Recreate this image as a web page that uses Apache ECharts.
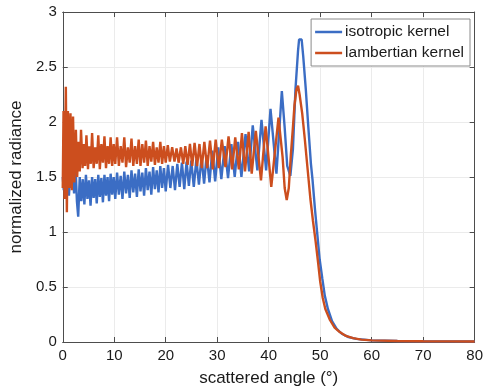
<!DOCTYPE html>
<html>
<head>
<meta charset="utf-8">
<script src="https://cdn.jsdelivr.net/npm/echarts@6/dist/echarts.min.js"></script>
<style>
html,body{margin:0;padding:0;background:#fff;}
#chart{width:486px;height:392px;}
</style>
</head>
<body>
<div id="chart"></div>
<script>
// ---- data ----
const xTicks = [0, 10, 20, 30, 40, 50, 60, 70, 80];
const yTicks = [0, 0.5, 1, 1.5, 2, 2.5, 3];

const isoName = 'isotropic kernel';
const lamName = 'lambertian kernel';

const isoAngle = [
0.0,0.2,0.45,0.7,0.95,1.2,1.45,1.7,1.95,2.2,2.45,2.75,3.0,3.3,3.6,3.9,4.2,4.5,4.8,5.1,5.4,5.7,6.0,6.3,6.6,6.9,7.2,7.5,7.8,8.1,8.4,8.7,9.0,9.3,9.6,9.9,
10.2,10.55,10.9,11.25,11.6,11.95,12.3,12.65,13.0,13.35,13.7,14.05,14.4,14.75,15.1,15.45,15.8,16.15,16.5,16.85,17.2,17.55,17.9,18.25,18.6,18.95,19.3,19.65,
20.0,20.45,20.9,21.35,21.8,22.25,22.7,23.15,23.6,24.05,24.5,24.95,25.45,25.95,26.45,26.95,27.45,27.95,28.5,29.05,29.6,30.2,30.8,31.45,32.1,32.75,33.4,34.05,34.7,
35.5,36.2,36.9,37.8,38.6,39.5,40.35,41.5,42.55,43.1,43.6,44.2,44.7,45.2,45.7,45.9,46.4,46.7,47.2,47.7,48.2,48.5,49.0,49.4,49.9,50.4,50.9,51.5,52.3,53.2,54.2,55.5,57.0,60.0,65.0,70.0,75.0,80.0
];
const isoValue = [
1.50,1.38,1.52,1.36,1.50,1.33,1.52,1.40,1.55,1.35,1.63,1.28,1.14,1.50,1.28,1.48,1.25,1.52,1.30,1.47,1.24,1.50,1.31,1.48,1.26,1.52,1.32,1.49,1.27,1.52,1.33,1.50,1.28,1.53,1.34,1.50,
1.30,1.54,1.34,1.51,1.30,1.55,1.35,1.52,1.31,1.56,1.36,1.53,1.32,1.57,1.37,1.54,1.33,1.58,1.38,1.55,1.34,1.59,1.39,1.56,1.36,1.60,1.40,1.58,
1.37,1.61,1.40,1.60,1.38,1.62,1.41,1.63,1.39,1.64,1.42,1.65,1.41,1.66,1.43,1.68,1.44,1.70,1.45,1.74,1.46,1.77,1.48,1.78,1.49,1.80,1.50,1.82,1.50,
1.89,1.55,1.97,1.56,2.02,1.56,2.12,1.53,2.28,1.95,1.60,1.51,1.75,2.30,2.65,2.75,2.75,2.60,2.30,1.95,1.62,1.48,1.20,1.00,0.75,0.58,0.42,0.30,0.19,0.12,0.075,0.045,0.028,0.015,0.009,0.007,0.006,0.005
];

const lamAngle = [
0.0,0.15,0.35,0.6,0.8,1.0,1.25,1.5,1.75,2.0,2.25,2.55,2.8,3.05,3.3,3.55,3.85,4.1,4.35,4.6,4.9,5.15,5.45,5.7,6.0,6.3,6.6,6.9,7.2,7.5,7.8,8.1,8.4,8.7,9.0,9.3,9.6,9.9,
10.2,10.55,10.9,11.25,11.6,11.95,12.3,12.65,13.0,13.35,13.7,14.05,14.4,14.75,15.1,15.45,15.8,16.15,16.5,16.85,17.2,17.55,17.9,18.25,18.6,18.95,19.3,19.65,
20.0,20.4,20.8,21.25,21.7,22.1,22.5,22.95,23.4,23.8,24.25,24.7,25.15,25.6,26.1,26.55,27.0,27.5,28.05,28.6,29.15,29.7,30.3,30.9,31.6,32.2,32.9,33.5,34.2,34.8,
35.4,36.1,36.7,37.5,38.5,39.4,40.5,41.9,42.7,43.1,43.5,43.9,44.3,44.7,45.0,45.4,45.7,46.0,46.5,47.0,47.5,48.1,48.6,49.1,49.6,50.0,50.5,51.0,51.9,52.8,53.8,55.0,56.4,58.0,60.0,65.0,70.0,75.0,80.0
];
const lamValue = [
1.40,2.10,1.30,2.32,1.18,2.10,1.40,2.08,1.38,2.05,1.45,1.93,1.50,1.82,1.55,1.93,1.58,1.80,1.60,1.88,1.57,1.78,1.62,1.90,1.58,1.77,1.62,1.88,1.57,1.80,1.63,1.87,1.58,1.78,1.62,1.86,1.60,1.80,
1.62,1.86,1.60,1.78,1.63,1.86,1.59,1.77,1.63,1.85,1.60,1.78,1.62,1.84,1.60,1.80,1.63,1.83,1.60,1.78,1.64,1.82,1.61,1.77,1.63,1.82,1.62,1.78,
1.63,1.79,1.64,1.77,1.64,1.76,1.63,1.77,1.62,1.78,1.61,1.80,1.60,1.81,1.60,1.80,1.58,1.82,1.58,1.83,1.57,1.84,1.58,1.84,1.59,1.87,1.57,1.86,1.57,1.90,
1.55,1.91,1.53,1.92,1.47,1.96,1.41,2.04,1.68,1.40,1.29,1.40,1.70,1.95,2.15,2.30,2.33,2.25,2.08,1.85,1.60,1.30,1.10,0.92,0.72,0.55,0.40,0.30,0.20,0.13,0.09,0.055,0.035,0.022,0.015,0.009,0.007,0.006,0.005
];

const isoColor = '#3b6dc4';
const lamColor = '#cc4e1e';

function pairs(xs, ys) { return xs.map((x, i) => [x, ys[i]]); }

const chart = echarts.init(document.getElementById('chart'), null, {renderer: 'canvas'});
const fontFam = '"Liberation Sans", Arial, Helvetica, sans-serif';
const axisCol = '#4d4d4d';
const gridCol = '#ebebeb';

chart.setOption({
  animation: false,
  backgroundColor: '#ffffff',
  textStyle: {fontFamily: fontFam},
  grid: {left: 57, right: 9, top: 12, bottom: 48, containLabel: false},
  legend: {
    orient: 'vertical',
    right: 16, top: 19,
    backgroundColor: '#ffffff',
    borderColor: '#8a8a8a', borderWidth: 1, borderRadius: 0,
    padding: [5, 6, 5, 4],
    itemGap: 5,
    itemWidth: 27, itemHeight: 2.5,
    icon: 'rect',
    textStyle: {fontSize: 15.5, color: '#1a1a1a', fontFamily: fontFam, padding: [0, 0, 0, -2]},
    data: [{name: isoName}, {name: lamName}]
  },
  xAxis: [{
    type: 'value', min: xTicks[0], max: xTicks[xTicks.length - 1], interval: 10,
    name: 'scattered angle (°)', nameLocation: 'middle', nameGap: 28,
    nameTextStyle: {fontSize: 17, color: '#1a1a1a', fontFamily: fontFam},
    axisLine: {show: true, onZero: false, lineStyle: {color: axisCol, width: 1}},
    axisTick: {show: true, inside: true, length: 5, lineStyle: {color: axisCol}},
    axisLabel: {fontSize: 15, color: '#1a1a1a', margin: 6, fontFamily: fontFam},
    splitLine: {show: true, lineStyle: {color: gridCol, width: 1}}
  }, {
    type: 'value', position: 'top', min: xTicks[0], max: xTicks[xTicks.length - 1], interval: 10,
    axisLine: {show: true, onZero: false, lineStyle: {color: axisCol, width: 1}},
    axisTick: {show: true, inside: true, length: 5, lineStyle: {color: axisCol}},
    axisLabel: {show: false}, splitLine: {show: false}
  }],
  yAxis: [{
    type: 'value', min: yTicks[0], max: yTicks[yTicks.length - 1], interval: 0.5,
    name: 'normalized radiance', nameLocation: 'middle', nameGap: 32,
    nameTextStyle: {fontSize: 17, color: '#1a1a1a', fontFamily: fontFam},
    axisLine: {show: true, onZero: false, lineStyle: {color: axisCol, width: 1}},
    axisTick: {show: true, inside: true, length: 5, lineStyle: {color: axisCol}},
    axisLabel: {fontSize: 15, color: '#1a1a1a', margin: 6, fontFamily: fontFam},
    splitLine: {show: true, lineStyle: {color: gridCol, width: 1}}
  }, {
    type: 'value', position: 'right', min: yTicks[0], max: yTicks[yTicks.length - 1], interval: 0.5,
    axisLine: {show: true, onZero: false, lineStyle: {color: axisCol, width: 1}},
    axisTick: {show: true, inside: true, length: 5, lineStyle: {color: axisCol}},
    axisLabel: {show: false}, splitLine: {show: false}
  }],
  series: [{
    name: isoName, type: 'line', xAxisIndex: 0, yAxisIndex: 0,
    data: pairs(isoAngle, isoValue),
    showSymbol: false, symbol: 'none',
    lineStyle: {color: isoColor, width: 2.4},
    itemStyle: {color: isoColor},
    z: 3
  }, {
    name: lamName, type: 'line', xAxisIndex: 0, yAxisIndex: 0,
    data: pairs(lamAngle, lamValue),
    showSymbol: false, symbol: 'none',
    lineStyle: {color: lamColor, width: 2.4},
    itemStyle: {color: lamColor},
    z: 4
  }]
});
</script>
</body>
</html>
